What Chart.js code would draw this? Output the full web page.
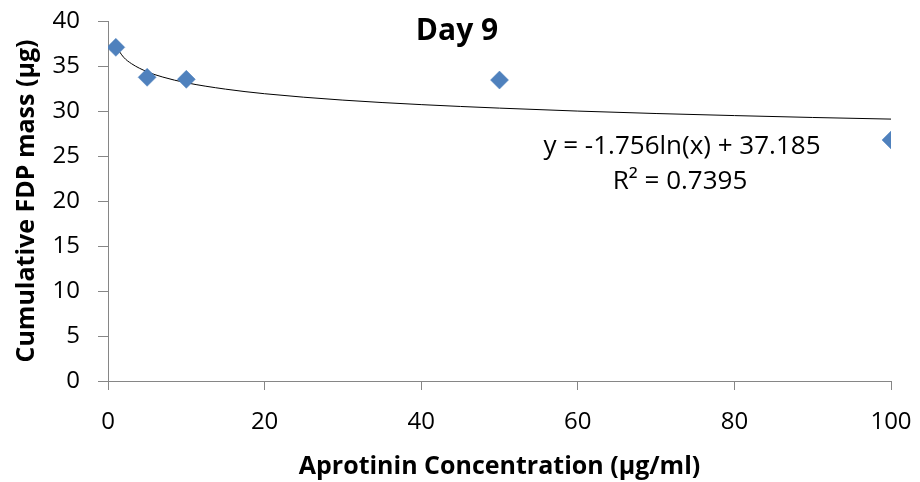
<!DOCTYPE html>
<html>
<head>
<meta charset="utf-8">
<script src="https://cdn.jsdelivr.net/npm/chart.js@4"></script>
<style>
  html, body { margin: 0; padding: 0; background: #fff; }
  #wrap { width: 920px; height: 482px; }
</style>
</head>
<body>
<div id="wrap"><canvas id="grafico"></canvas></div>
<script>
const concentracion = [1, 5, 10, 50, 100]
const masa = [37.07, 33.74, 33.52, 33.44, 26.78]

// trend line
const trendX = [1, 2, 3, 5, 7, 10, 15, 20, 30, 40, 50, 60, 70, 80, 90, 100]
const trendY = [37.2, 35.97, 35.26, 34.36, 33.77, 33.14, 32.43, 31.92, 31.21, 30.71, 30.32, 29.99, 29.72, 29.49, 29.28, 29.1]

const xTicks = [0, 20, 40, 60, 80, 100]
const yTicks = [0, 5, 10, 15, 20, 25, 30, 35, 40]

const fuente = '"Open Sans", Lato, sans-serif'
const gris = '#868686'

const textos = {
  id: 'textos',
  afterDraw(chart) {
    const ctx = chart.ctx
    ctx.save()
    ctx.fillStyle = '#000'
    ctx.textAlign = 'center'
    ctx.textBaseline = 'middle'
    ctx.font = 'bold 30px ' + fuente
    ctx.fillText('Day 9', 457, 31)
    ctx.font = '26px ' + fuente
    ctx.fillText('y = -1.756ln(x) + 37.185', 682, 147)
    ctx.fillText('R² = 0.7395', 680, 182)
    ctx.restore()
  }
}

// keep the plot box where the picture has it
const sinRelleno = s => {
  s.paddingTop = 0
  s.paddingBottom = 0
  s.paddingLeft = 0
  s.paddingRight = 0
}

const miGrafico = new Chart(document.getElementById('grafico'), {
  type: 'scatter',
  data: {
    datasets: [{
      label: 'Day 9',
      data: concentracion.map((x, i) => ({x: x, y: masa[i]})),
      pointStyle: 'rectRot',
      pointRadius: 9,
      pointHoverRadius: 9,
      backgroundColor: '#4F81BD',
      borderColor: '#4F81BD',
      borderWidth: 0.5,
      order: 1
    }, {
      label: 'trend',
      type: 'line',
      data: trendX.map((x, i) => ({x: x, y: trendY[i]})),
      borderColor: '#000',
      borderWidth: 1,
      pointRadius: 0,
      cubicInterpolationMode: 'monotone',
      fill: false,
      order: 2
    }]
  },
  options: {
    responsive: true,
    maintainAspectRatio: false,
    animation: false,
    layout: { padding: { top: 21, right: 29, left: 0, bottom: 0 } },
    plugins: {
      legend: { display: false },
      tooltip: { enabled: false }
    },
    scales: {
      x: {
        type: 'linear',
        min: 0, max: 100,
        afterBuildTicks: s => { s.ticks = xTicks.map(v => ({value: v})) },
        afterFit: s => { s.height = 101; sinRelleno(s) },
        border: { color: gris, width: 1 },
        grid: { drawOnChartArea: false, drawTicks: true, tickLength: 9, color: gris },
        ticks: { color: '#000', font: { family: fuente, size: 24 }, padding: 18, maxRotation: 0 },
        title: {
          display: true,
          text: 'Aprotinin Concentration (μg/ml)',
          color: '#000',
          font: { family: fuente, size: 25, weight: 'bold' },
          padding: { top: 0, bottom: 0 }
        }
      },
      y: {
        min: 0, max: 40,
        afterBuildTicks: s => { s.ticks = yTicks.map(v => ({value: v})) },
        afterFit: s => { s.width = 108; sinRelleno(s) },
        border: { color: gris, width: 1 },
        grid: { drawOnChartArea: false, drawTicks: true, tickLength: 10, color: gris },
        ticks: { color: '#000', font: { family: fuente, size: 24 }, padding: 18 },
        title: {
          display: true,
          text: 'Cumulative FDP mass (μg)',
          color: '#000',
          font: { family: fuente, size: 25, weight: 'bold' },
          padding: { top: 12, bottom: 0 }
        }
      }
    }
  },
  plugins: [textos]
})
</script>
</body>
</html>
